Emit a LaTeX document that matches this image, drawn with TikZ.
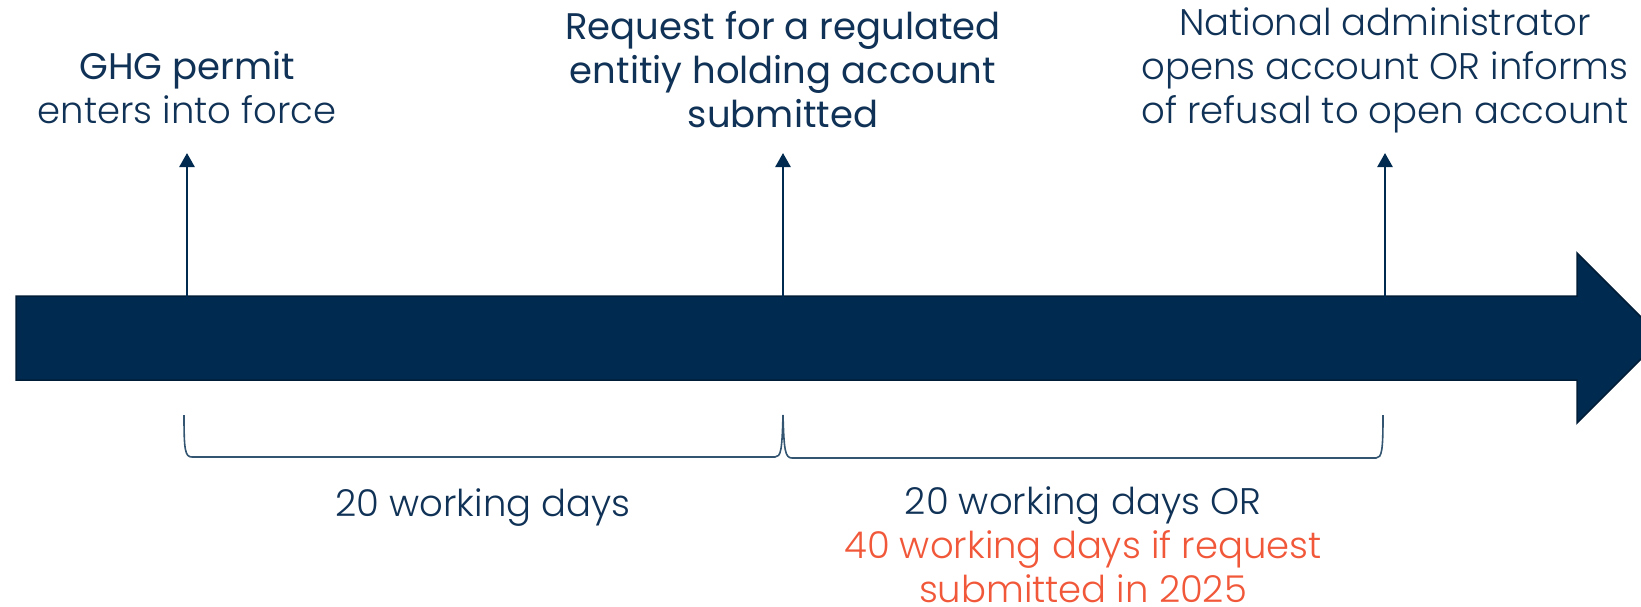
\documentclass[tikz,border=0pt]{standalone}
\usepackage{fontspec}
\setmainfont{Poppins}[UprightFont=* Light, BoldFont=*]
\usetikzlibrary{arrows.meta}
\definecolor{navy}{RGB}{0,42,79}
\definecolor{navytext}{RGB}{16,50,86}
\definecolor{orng}{RGB}{241,88,58}
\tikzset{
  body/.style={fill=navy, draw=navy!70!black, line width=1.5pt},
  tick/.style={draw=navy, line width=2.6pt, -{Triangle[length=14pt,width=15pt]}},
  brc/.style={draw=navy!80, line width=1.6pt},
  lbl/.style={align=center, text=navytext, font=\fontsize{37}{44}\selectfont, inner sep=0pt},
}
\begin{document}
\begin{tikzpicture}[x=1pt,y=-1pt]
\useasboundingbox (0,0) rectangle (1641,606);
\clip (0,0) rectangle (1641,606);
% main arrow
\path[body] (16,296) -- (1577,296) -- (1577,253) -- (1662,338) -- (1577,423) -- (1577,380) -- (16,380) -- cycle;
% base coordinates and tips
\coordinate (b1) at (187,297);
\coordinate (b2) at (783,297);
\coordinate (b3) at (1385,297);
\coordinate (t1) at (187,153);
\coordinate (t2) at (783,153);
\coordinate (t3) at (1385,153);
\draw[tick] (b1) -- (t1);
\draw[tick] (b2) -- (t2);
\draw[tick] (b3) -- (t3);
% labels
\node[lbl] (l1) at (187,88) {\textbf{GHG permit}\\enters into force};
\node[lbl] (l2) at (783,70) {\textbf{Request for a regulated}\\\textbf{entitiy holding account}\\\textbf{submitted}};
\node[lbl] (l3) at (1385,70) {National administrator\\opens account OR informs\\of refusal to open account};
% braces
\coordinate (ba) at (184,415);
\coordinate (bb) at (783,415);
\coordinate (bc) at (1383,415);
\draw[brc] (ba) .. controls (184,450) and (185,457) .. (192,457) -- (775,457) .. controls (781,457) and (782,450) .. (bb);
\draw[brc] (bb) .. controls (784,450) and (785,458) .. (792,458) -- (1376,458) .. controls (1382,458) and (1383,450) .. (bc);
% bottom labels
\node[lbl] (d1) at (483,508) {20 working days};
\node[lbl] (d2) at (1083,545) {20 working days OR\\\textcolor{orng}{40 working days if request}\\\textcolor{orng}{submitted in 2025}};
\end{tikzpicture}
\end{document}
